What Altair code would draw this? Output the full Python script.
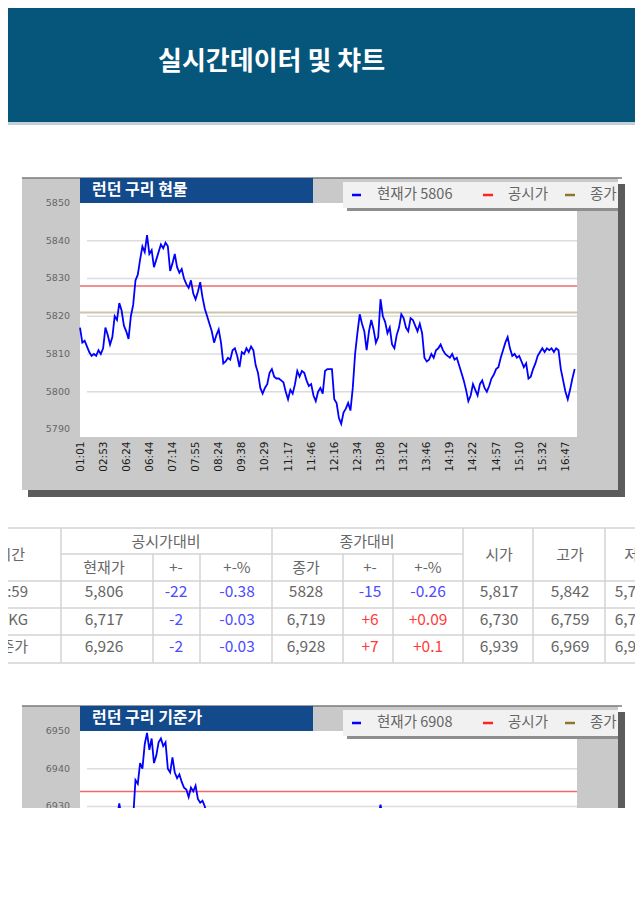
import json
import altair as alt
import pandas as pd

# ---------------- data ----------------
HEADER_TITLE = "실시간데이터 및 챠트"

TIME_LABELS = ["01:01", "02:53", "06:24", "06:44", "07:14", "07:55", "08:24", "09:38",
               "10:29", "11:17", "11:46", "12:16", "12:34", "13:08", "13:12", "13:46",
               "14:19", "14:22", "14:57", "15:10", "15:32", "16:47"]

# 런던 구리 현물 (tick samples)
SPOT_VALUES = [
    5817, 5813, 5813.5, 5812, 5810.5, 5809.5, 5810, 5809.5, 5811, 5810,
    5811.5, 5817, 5815, 5812.5, 5814.5, 5820, 5819, 5823.5, 5821.5, 5817.5,
    5816, 5814, 5820, 5823, 5829.5, 5831, 5835, 5838.5, 5837, 5841.5,
    5836.5, 5837.5, 5833, 5835, 5837, 5839, 5838, 5839.5, 5838.5, 5832,
    5834, 5836.5, 5833, 5831.5, 5832.5, 5830, 5828.5, 5827.5, 5829.5, 5826,
    5824.5, 5826.5, 5829, 5825, 5822, 5820, 5818, 5816, 5813, 5815,
    5816.5, 5813, 5807.5, 5808, 5809, 5808.5, 5811, 5811.5, 5809.5, 5806.5,
    5810.5, 5810, 5811.5, 5810.5, 5812, 5811, 5807, 5805, 5801, 5799.5,
    5801, 5802, 5805, 5806, 5804, 5803.5, 5803.5, 5803, 5802.5, 5800,
    5798, 5800.5, 5799.5, 5802, 5805.5, 5804, 5805.5, 5805, 5803, 5801.5,
    5802, 5799, 5797.5, 5800, 5801, 5799.5, 5805.5, 5806, 5806, 5806,
    5798, 5797, 5793, 5791.5, 5794.5, 5795.5, 5797, 5795, 5801, 5810,
    5815.5, 5820.5, 5818, 5816, 5811, 5816, 5819, 5816.5, 5813, 5814.5,
    5824.5, 5820, 5818.5, 5815.5, 5817, 5812.5, 5811.5, 5815, 5817, 5820.5,
    5819.5, 5817, 5816, 5819.5, 5819, 5817.5, 5816, 5818, 5815.5, 5809,
    5808, 5808.5, 5810, 5809, 5811, 5811.5, 5812.5, 5811, 5810, 5809.5,
    5809, 5810, 5808.5, 5809, 5807, 5805, 5803, 5800.5, 5797.5, 5799,
    5802, 5800.5, 5799, 5802, 5803, 5801, 5800, 5801.5, 5803.5, 5804.5,
    5806, 5806.5, 5809, 5811, 5813, 5814.5, 5811.5, 5809.5, 5810, 5809,
    5809.5, 5808, 5806.5, 5807.5, 5803.5, 5804, 5806, 5807.5, 5809.5, 5810.5,
    5811.5, 5810.5, 5811.5, 5811, 5811.5, 5810.5, 5811.5, 5811, 5806, 5803,
    5800, 5798, 5800.5, 5803.5, 5806,
]
SPOT_IDX = list(range(len(SPOT_VALUES)))
SPOT_TICKS = [5790, 5800, 5810, 5820, 5830, 5840, 5850]
SPOT_GRID = [5800, 5810, 5820, 5830, 5840]
SPOT_NOTICE = 5828   # 공시가
SPOT_CLOSE = 5821    # 종가
SPOT_CURRENT = 5806  # 현재가

# 런던 구리 기준가 (only the visible top of the panel)
BASE_IDX = [16, 17, 18, 23, 24, 25, 26, 27, 28, 29, 30, 31, 32, 33, 34, 35, 36, 37, 38,
            39, 40, 41, 42, 43, 44, 45, 46, 47, 48, 49, 50, 51, 52, 53, 54, 55, 129, 130, 131]
BASE_VALUES = [6927, 6930.8, 6927, 6927, 6937, 6936, 6941.5, 6940, 6946.5, 6949.5, 6945,
               6948, 6941.5, 6943.5, 6947, 6948, 6946, 6947, 6940, 6939, 6943, 6939,
               6937.5, 6938.5, 6936.5, 6935, 6934.5, 6932.5, 6935, 6934, 6935.5, 6932,
               6931, 6931.5, 6930, 6927, 6927, 6930.5, 6927]
BASE_TICKS = [6890, 6900, 6910, 6920, 6930, 6940, 6950]
BASE_GRID = [6900, 6910, 6920, 6930, 6940]
BASE_NOTICE = 6934
BASE_CLOSE = 6919
BASE_CURRENT = 6908

# table
GROUP_HEADERS = ["공시가대비", "종가대비"]
TABLE_COLUMNS = ["현재가", "+-", "+-%", "종가", "+-", "+-%", "시가", "고가", "저가"]
ROW_HEADER = "시간"
ROW_LABELS = ["16:59", "원/KG", "기준가"]
COL_CUR = ["5,806", "6,717", "6,926"]
COL_CHG1 = ["-22", "-2", "-2"]
COL_PCT1 = ["-0.38", "-0.03", "-0.03"]
COL_CLOSE = ["5828", "6,719", "6,928"]
COL_CHG2 = ["-15", "+6", "+7"]
COL_PCT2 = ["-0.26", "+0.09", "+0.1"]
COL_OPEN = ["5,817", "6,730", "6,939"]
COL_HIGH = ["5,842", "6,759", "6,969"]
COL_LOW = ["5,791", "6,700", "6,908"]

# ---------------- layout helpers ----------------
W, H = 627, 800
KR = "Noto Sans CJK KR"
ONE = pd.DataFrame({"k": [0]})


def box(x, x2, y, y2, color):
    return alt.Chart(ONE).mark_rect(color=color).encode(
        x=alt.value(x), x2=alt.value(x2), y=alt.value(y), y2=alt.value(y2))


def hline(x, x2, y, color, w):
    return alt.Chart(ONE).mark_rule(color=color, strokeWidth=w).encode(
        x=alt.value(x), x2=alt.value(x2), y=alt.value(y))


def vline(x, y, y2, color, w):
    return alt.Chart(ONE).mark_rule(color=color, strokeWidth=w).encode(
        x=alt.value(x), y=alt.value(y), y2=alt.value(y2))


def label(text, x, y, size, color, align="center", weight="normal", font=KR):
    return alt.Chart(ONE).mark_text(
        text=text, align=align, baseline="middle", fontSize=size, color=color,
        fontWeight=weight, font=font).encode(x=alt.value(x), y=alt.value(y))


def panel_frame(dy, title):
    return [
        box(20, 617, 176 + dy, 489 + dy, "#5c5c5c"),
        box(14, 610, 170 + dy, 482 + dy, "#c9c9c9"),
        hline(14, 614, 170 + dy, "#7a7a7a", 1.5),
        box(72, 569, 195 + dy, 429 + dy, "#ffffff"),
        box(72, 305, 170 + dy, 195 + dy, "#124a8c"),
        label(title, 84, 182 + dy, 16, "#ffffff", "left", "bold"),
    ]


def price_layer(dy, idx, values, domain, ticks, grid_vals, notice, close):
    top, bottom = 195 + dy, 429 + dy
    xs = alt.Scale(domain=[0, 215], range=[72, 569], nice=False, zero=False)
    ys = alt.Scale(domain=domain, range=[bottom, top], nice=False, zero=False)
    xaxis = alt.Axis(
        orient="bottom", offset=bottom - H, values=list(range(0, 211, 10)),
        labelExpr=json.dumps(TIME_LABELS) + "[round(datum.value / 10)]",
        labelAngle=270, labelPadding=4, labelFontSize=10.5, labelColor="#1a1a1a",
        labelFont="DejaVu Sans", labelOverlap=False, labelFlush=False,
        ticks=False, domain=False, grid=False, title=None, zindex=1)
    grid = alt.Chart(pd.DataFrame({"g": grid_vals})).mark_rule(
        color="#dcdcdc", strokeWidth=1.5).encode(
        y=alt.Y("g:Q", scale=ys, axis=None), x=alt.value(79), x2=alt.value(569))
    close_rule = alt.Chart(pd.DataFrame({"c": [close]})).mark_rule(
        color="#cac7a8", strokeWidth=2).encode(
        y=alt.Y("c:Q", scale=ys, axis=None), x=alt.value(72), x2=alt.value(569))
    notice_rule = alt.Chart(pd.DataFrame({"n": [notice]})).mark_rule(
        color="#f06a6a", strokeWidth=1.5).encode(
        y=alt.Y("n:Q", scale=ys, axis=None), x=alt.value(72), x2=alt.value(569))
    ylabels = alt.Chart(pd.DataFrame({"tk": ticks})).mark_text(
        align="right", baseline="middle", fontSize=9.5, color="#666666",
        font="DejaVu Sans").encode(
        y=alt.Y("tk:Q", scale=ys, axis=None), x=alt.value(62),
        text=alt.Text("tk:Q", format="d"))
    line = alt.Chart(pd.DataFrame({"t": idx, "v": values})).mark_line(
        color="#0000ff", strokeWidth=1.8).encode(
        x=alt.X("t:Q", scale=xs, axis=xaxis),
        y=alt.Y("v:Q", scale=ys, axis=None))
    return alt.layer(grid, close_rule, notice_rule, ylabels, line)


def legend(dy, current):
    y = 187 + dy
    return [
        box(339, 610, 200 + dy, 203 + dy, "#8e8e8e"),
        box(335, 610, 174 + dy, 200 + dy, "#f1f1f1"),
        hline(344, 353, y, "#0000ff", 2.5),
        label(f"현재가 {current}", 369, y, 14.5, "#666666", "left"),
        hline(475, 485, y, "#ff2020", 2.5),
        label("공시가", 500, y, 14.5, "#666666", "left"),
        hline(557, 567, y, "#8c7a2c", 2.5),
        label("종가", 582, y, 14.5, "#666666", "left"),
        box(610, 617, 176 + dy, 489 + dy, "#5c5c5c"),
    ]


layers = []

# header band
layers += [
    box(0, W, 0, 114, "#05567a"),
    box(0, W, 114, 117, "#c3d0d6"),
    label(HEADER_TITLE, 150, 54, 26, "#ffffff", "left", "bold"),
]

# chart 1
layers += panel_frame(0, "런던 구리 현물")
layers.append(price_layer(0, SPOT_IDX, SPOT_VALUES, [5788, 5850], SPOT_TICKS,
                          SPOT_GRID, SPOT_NOTICE, SPOT_CLOSE))
layers += legend(0, SPOT_CURRENT)

# table
LINE_C = "#d3d3d3"
layers += [hline(0, W, 520, LINE_C, 1.5), hline(53, 455, 546, LINE_C, 1.5)]
for yy in [573, 600, 627, 655]:
    layers.append(hline(0, W, yy, LINE_C, 1.5))
for xx in [53, 264, 455, 525, 597]:
    layers.append(vline(xx, 520, 655, LINE_C, 1.5))
for xx in [145, 192, 335, 385]:
    layers.append(vline(xx, 546, 655, LINE_C, 1.5))

COL_X = [96, 168, 229, 298, 362, 420, 491, 562, 626]
HEAD_Y1, HEAD_Y2, HEAD_SPAN = 533.5, 559.5, 546.5
ROW_Y = [584, 611.5, 639]
GRAY, BLUE, RED = "#666666", "#4b4bff", "#ff3b3b"

layers.append(label(GROUP_HEADERS[0], 158, HEAD_Y1, 15, GRAY))
layers.append(label(GROUP_HEADERS[1], 359, HEAD_Y1, 15, GRAY))
layers.append(label(ROW_HEADER, 17, HEAD_SPAN, 15, GRAY, "right"))
for i, name in enumerate(TABLE_COLUMNS):
    if i < 6:
        layers.append(label(name, COL_X[i], HEAD_Y2, 15, GRAY))
    else:
        layers.append(label(name, COL_X[i] + (4 if i == 8 else 0), HEAD_SPAN, 15, GRAY))

columns = [COL_CUR, COL_CHG1, COL_PCT1, COL_CLOSE, COL_CHG2, COL_PCT2, COL_OPEN, COL_HIGH, COL_LOW]
for r, row_label in enumerate(ROW_LABELS):
    layers.append(label(row_label, 20, ROW_Y[r], 15, GRAY, "right"))
    for c, col in enumerate(columns):
        txt = col[r]
        color = BLUE if txt.startswith("-") else (RED if txt.startswith("+") else GRAY)
        layers.append(label(txt, COL_X[c], ROW_Y[r], 15.5, color))

# chart 2 (cut off by the bottom of the picture)
DY2 = 528
layers += panel_frame(DY2, "런던 구리 기준가")
layers.append(price_layer(DY2, BASE_IDX, BASE_VALUES, [6888, 6950], BASE_TICKS,
                          BASE_GRID, BASE_NOTICE, BASE_CLOSE))
layers += legend(DY2, BASE_CURRENT)

chart = alt.layer(*layers).resolve_scale(x="independent", y="independent").properties(
    width=W, height=H, padding=0, background="#ffffff",
    autosize=alt.AutoSizeParams(type="none"),
).configure_view(stroke=None)

chart.save("out.html", embed_options={"renderer": "svg", "actions": False})
